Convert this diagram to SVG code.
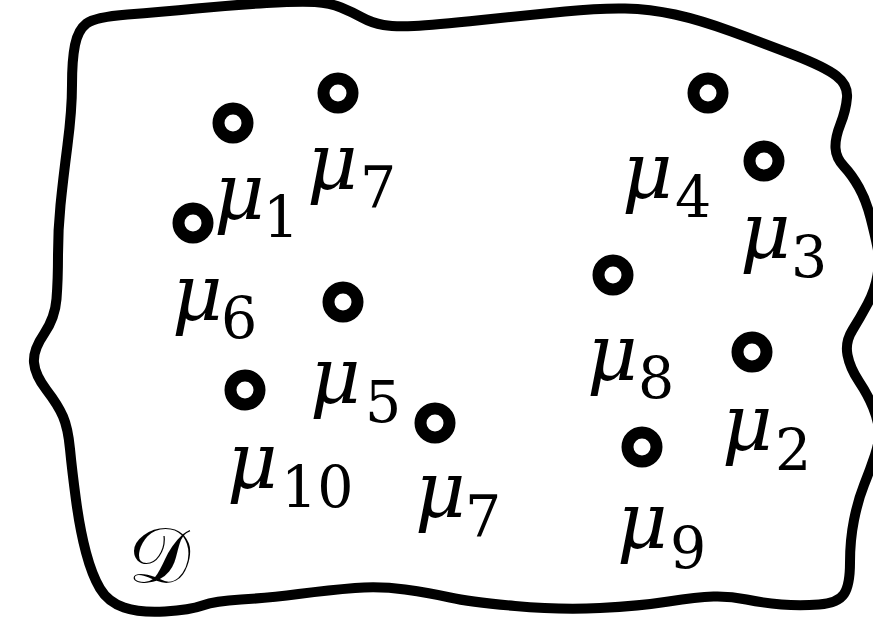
<svg xmlns="http://www.w3.org/2000/svg" width="873" height="632" viewBox="0 0 873 632">
<style>
.bd{fill:none;stroke:#000;stroke-width:10;stroke-linejoin:round}
.pt{fill:none;stroke:#000;stroke-width:12}
.mu{font-family:"DejaVu Serif","Liberation Serif",serif;font-style:italic;font-size:78px;fill:#000}
.sb{font-family:"DejaVu Serif","Liberation Serif",serif;font-style:normal;font-size:57px}
.cal{font-family:"DejaVu Serif","DejaVu Sans","Noto Sans",serif;font-size:78px;fill:#000}
</style>
<rect width="873" height="632" fill="#fff"/>
<g id="domain">
<path class="bd" d="M86.5,23.5 Q95,17 127.5,14.5 Q160,12 196.5,8.5 Q233,5 266.5,3 Q300,1 315,2 Q330,3 341,7.5 Q352,12 362,17.5 Q372,23 383.5,25 Q395,27 414,26 Q433,25 481.5,20 Q530,15 565,11.5 Q600,8 625,8.5 Q650,9 675,14.5 Q700,20 731.5,31.5 Q763,43 794,55 Q825,67 836.5,76 Q848,85 847,97.5 Q846,110 840.5,124 Q835,138 835.5,148 Q836,158 844,166.5 Q852,175 859,187.5 Q866,200 870.5,217.5 Q875,235 877.5,247.5 Q880,260 877.5,275 Q875,290 867.5,304 Q860,318 852.5,330 Q845,342 847.5,355 Q850,368 859,381.5 Q868,395 873,407.5 Q878,420 879,430 Q880,440 875,455 Q870,470 864,485 Q858,500 854,520 Q850,540 850,562.5 Q850,585 844,594 Q838,603 819,604.5 Q800,606 781.5,604.5 Q763,603 746.5,599.5 Q730,596 713.5,596.5 Q697,597 668.5,601.5 Q640,606 600,608 Q560,610 515,606 Q470,602 450,597.5 Q430,593 405,589.5 Q380,586 355,588 Q330,590 298.5,594 Q267,598 241,599.5 Q215,601 202.5,605.5 Q190,610 165,611.5 Q140,613 124,607.5 Q108,602 100,588.5 Q92,575 86,552.5 Q80,530 76,500 Q72,470 70,449 Q68,428 63,416.5 Q58,405 46.5,390 Q35,375 34,362.5 Q33,350 44,334 Q55,318 56.5,299 Q58,280 58,255 Q58,230 60.5,205 Q63,180 67.5,145 Q72,110 72,85 Q72,60 75,45 Q78,30 86.5,23.5 Z"/>
</g>
<g id="point-a"><circle class="pt" cx="233" cy="123" r="14.5"/></g>
<g id="point-b"><circle class="pt" cx="338" cy="93" r="14.5"/></g>
<g id="point-c"><circle class="pt" cx="193" cy="223" r="14.5"/></g>
<g id="point-d"><circle class="pt" cx="343" cy="302" r="14.5"/></g>
<g id="point-e"><circle class="pt" cx="245" cy="390" r="14.5"/></g>
<g id="point-f"><circle class="pt" cx="435" cy="423" r="14.5"/></g>
<g id="point-g"><circle class="pt" cx="708" cy="93" r="14.5"/></g>
<g id="point-h"><circle class="pt" cx="764" cy="161" r="14.5"/></g>
<g id="point-i"><circle class="pt" cx="613" cy="275" r="14.5"/></g>
<g id="point-j"><circle class="pt" cx="752" cy="352" r="14.5"/></g>
<g id="point-k"><circle class="pt" cx="642" cy="447" r="14.5"/></g>
<g id="label-mu1"><text class="mu" x="214" y="219">μ<tspan class="sb" x="263" y="237">1</tspan></text></g>
<g id="label-mu7a"><text class="mu" x="307" y="189">μ<tspan class="sb" x="360" y="208">7</tspan></text></g>
<g id="label-mu6"><text class="mu" x="172" y="320">μ<tspan class="sb" x="221" y="338">6</tspan></text></g>
<g id="label-mu5"><text class="mu" x="310" y="403">μ<tspan class="sb" x="365" y="422">5</tspan></text></g>
<g id="label-mu10"><text class="mu" x="227" y="488">μ<tspan class="sb" x="281" y="507">10</tspan></text></g>
<g id="label-mu7b"><text class="mu" x="415" y="517">μ<tspan class="sb" x="465" y="537">7</tspan></text></g>
<g id="label-mu4"><text class="mu" x="622" y="198">μ<tspan class="sb" x="675" y="217">4</tspan></text></g>
<g id="label-mu3"><text class="mu" x="740" y="258">μ<tspan class="sb" x="791" y="277">3</tspan></text></g>
<g id="label-mu8"><text class="mu" x="587" y="380">μ<tspan class="sb" x="638" y="398">8</tspan></text></g>
<g id="label-mu2"><text class="mu" x="722" y="450">μ<tspan class="sb" x="775" y="470">2</tspan></text></g>
<g id="label-mu9"><text class="mu" x="617" y="548">μ<tspan class="sb" x="670" y="568">9</tspan></text></g>
<g id="label-domain"><text class="cal" x="128" y="582">𝒟</text></g>
</svg>
